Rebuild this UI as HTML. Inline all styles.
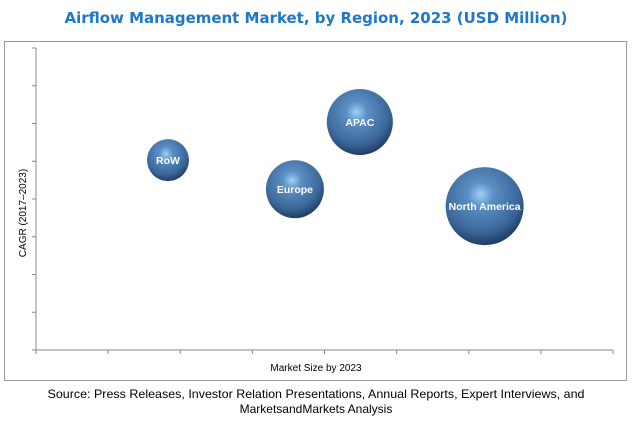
<!DOCTYPE html>
<html><head><meta charset="utf-8"><style>
body{margin:0;background:#fff;width:633px;height:425px;overflow:hidden;font-family:"Liberation Sans",Arial,sans-serif}
</style></head><body>
<svg width="633" height="425">
<defs>
<radialGradient id="g" cx="0.45" cy="0.35" r="0.65">
<stop offset="0" stop-color="#9fd0f5"/><stop offset="0.25" stop-color="#5b8fc5"/>
<stop offset="0.75" stop-color="#3b6798"/><stop offset="1" stop-color="#1f3d66"/>
</radialGradient>
</defs>
<text x="316" y="23" text-anchor="middle" font-size="15" font-weight="bold" fill="#1f77c7" font-family="DejaVu Sans, sans-serif" textLength="503" lengthAdjust="spacingAndGlyphs">Airflow Management Market, by Region, 2023 (USD Million)</text>
<rect x="4.5" y="41.5" width="622" height="339" fill="none" stroke="#999"/>
<g id="axes"></g>
<g id="bubbles"></g>
<text x="316" y="371" text-anchor="middle" font-size="10" fill="#000">Market Size by 2023</text>
<text transform="translate(26,213) rotate(-90)" text-anchor="middle" font-size="10" fill="#000">CAGR (2017–2023)</text>
<text x="316" y="398" text-anchor="middle" font-size="12" fill="#000" textLength="537" lengthAdjust="spacingAndGlyphs">Source: Press Releases, Investor Relation Presentations, Annual Reports, Expert Interviews, and</text>
<text x="316" y="413" text-anchor="middle" font-size="12" fill="#000">MarketsandMarkets Analysis</text>
</svg>
<script>
const regions=["RoW","Europe","APAC","North America"];
const marketSize=[1.83,3.59,4.49,6.22];
const cagr=[5.03,4.26,6.04,3.81];
const bubbleSize=[4.4,8.4,10.9,15.2];
const xTicks=[0,1,2,3,4,5,6,7,8];
const yTicks=[0,1,2,3,4,5,6,7,8];
const X0=36,X1=613,Y0=350,Y1=48;
const sx=v=>X0+(X1-X0)*v/8, sy=v=>Y0-(Y0-Y1)*v/8, sr=v=>10*Math.sqrt(v);
const NS="http://www.w3.org/2000/svg";
const ax=document.getElementById('axes');
function mk(t,a,p){const e=document.createElementNS(NS,t);for(const k in a)e.setAttribute(k,a[k]);p.appendChild(e);return e;}
let l=mk('line',{x1:X0,y1:Y0,x2:X1,y2:Y0,stroke:'#888'},ax);


l=mk('line',{x1:X0,y1:Y0,x2:X0,y2:Y1,stroke:'#888'},ax);


xTicks.forEach(t=>{const e=mk('line',{x1:sx(t),y1:Y0,x2:sx(t),y2:Y0+4,stroke:'#888'},ax);

});
yTicks.forEach(t=>{const e=mk('line',{x1:X0-4,y1:sy(t),x2:X0,y2:sy(t),stroke:'#888'},ax);

});
const bg=document.getElementById('bubbles');
regions.forEach((r,i)=>{
const g=mk('g',{},bg);


mk('circle',{cx:sx(marketSize[i]),cy:sy(cagr[i]),r:sr(bubbleSize[i]),fill:'url(#g)'},g);
const t=mk('text',{x:sx(marketSize[i]),y:sy(cagr[i])+4,'text-anchor':'middle','font-size':10.5,'font-weight':'bold',fill:'#fff'},g);
t.textContent=r;
});
</script>
</body></html>
